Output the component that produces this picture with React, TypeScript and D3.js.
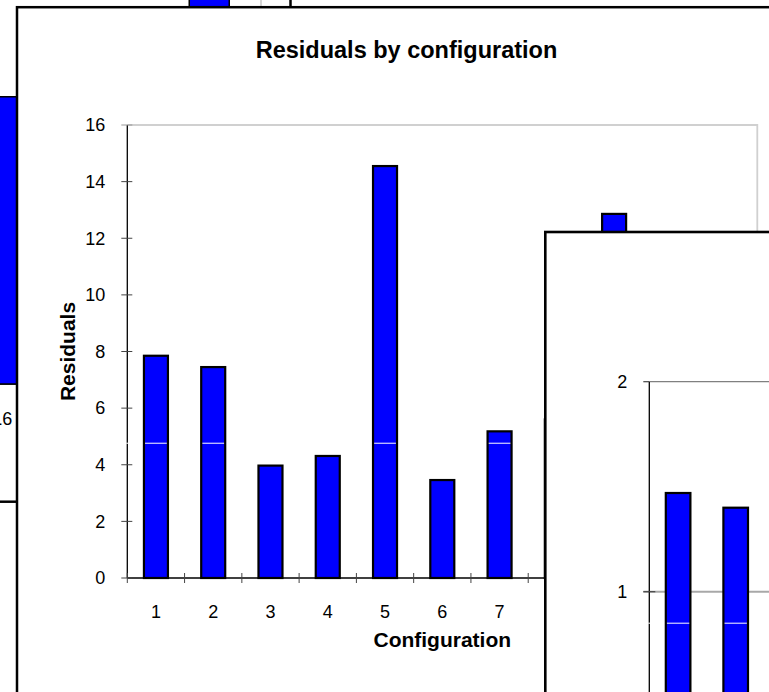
import React, { useEffect, useRef } from 'react';
import * as d3 from 'd3';

// middle window: the chart that is mostly visible
const configurations = ['1', '2', '3', '4', '5', '6', '7', '8', '9', '10', '11'];
const residuals = [7.85, 7.45, 3.97, 4.31, 14.55, 3.46, 5.18, 5.6, 12.86, 6.1, 4.8];
const residualTicks = [0, 2, 4, 6, 8, 10, 12, 14, 16];
const residualMark = 4.76;

// front window (bottom right), only its top left corner shows
const frontConfigurations = ['1', '2', '3'];
const frontResiduals = [1.47, 1.4, 1.2];
const frontTicks = [1, 2];
const frontMark = 0.85;

// back window, only small pieces show
const backConfigurations = ['16', '17', '18'];
const backResiduals = [10.15, 8.4, 14.3];

const FONT = '"Liberation Sans", Arial, sans-serif';
const BLUE = '#0000ff';

const App: React.FC = () => {
  const ref = useRef<SVGSVGElement>(null);

  useEffect(() => {
    const svg = d3.select(ref.current);
    svg.selectAll('*').remove();

    const drawBars = (
      g: d3.Selection<SVGGElement, unknown, null, undefined>,
      cats: string[],
      vals: number[],
      x: d3.ScaleBand<string>,
      y: d3.ScaleLinear<number, number>,
      barW: number,
      stroke: number,
      mark: number | null,
      x0: number,
      x1: number
    ) => {
      const data = cats.map((c, i) => ({ c, v: vals[i] }));
      const bx = (d: any) => (x(d.c) || 0) + (x.bandwidth() - barW) / 2;
      g.append('g')
        .selectAll('rect')
        .data(data)
        .join('rect')
        .attr('x', bx)
        .attr('y', d => y(d.v))
        .attr('width', barW)
        .attr('height', d => y(0) - y(d.v))
        .attr('fill', BLUE);
      if (mark !== null) {
        g.append('line')
          .attr('x1', x0 - 1)
          .attr('x2', x1)
          .attr('y1', y(mark))
          .attr('y2', y(mark))
          .attr('stroke', '#fff')
          .attr('stroke-width', 1);
      }
      g.append('g')
        .selectAll('rect')
        .data(data)
        .join('rect')
        .attr('x', bx)
        .attr('y', d => y(d.v))
        .attr('width', barW)
        .attr('height', d => y(0) - y(d.v))
        .attr('fill', 'none')
        .attr('stroke', '#000')
        .attr('stroke-width', stroke);
    };

    // ---------- back window ----------
    const back = svg.append('g');
    back.append('rect')
      .attr('x', -400).attr('y', -400)
      .attr('width', 690.5).attr('height', 901.7)
      .attr('fill', '#fff').attr('stroke', '#000').attr('stroke-width', 2.5);
    const xB = d3.scaleBand().domain(backConfigurations).range([-49.5, 261]);
    const yB = d3.scaleLinear().domain([0, 16]).range([384, 384 - 16 * 28.3]);
    back.append('line')
      .attr('x1', 261).attr('x2', 261)
      .attr('y1', yB(16)).attr('y2', yB(0))
      .attr('stroke', '#c8c8c8').attr('stroke-width', 1.5);
    back.append('line')
      .attr('x1', -60).attr('x2', 261)
      .attr('y1', yB(0)).attr('y2', yB(0))
      .attr('stroke', '#000').attr('stroke-width', 1.3);
    drawBars(back, backConfigurations, backResiduals, xB, yB, 40, 1.5, null, 0, 0);
    back.append('g')
      .selectAll('text')
      .data(backConfigurations)
      .join('text')
      .attr('x', d => (xB(d) || 0) + xB.bandwidth() / 2)
      .attr('y', yB(0) + 35)
      .attr('dy', '0.35em')
      .attr('text-anchor', 'middle')
      .style('font-family', FONT)
      .style('font-size', '18px')
      .text(d => d);

    // ---------- main window ----------
    const main = svg.append('g');
    main.append('rect')
      .attr('x', 17).attr('y', 7.2)
      .attr('width', 900).attr('height', 900)
      .attr('fill', '#fff').attr('stroke', '#000').attr('stroke-width', 2.5);

    const x = d3.scaleBand().domain(configurations).range([127.3, 757.3]);
    const y = d3.scaleLinear().domain([0, 16]).range([578, 125]);
    const [px0, px1] = x.range();

    // plot area border (top and right)
    main.append('path')
      .attr('d', `M${px0},${y(16)}H${px1}V${y(0)}`)
      .attr('fill', 'none')
      .attr('stroke', '#d0d0d0')
      .attr('stroke-width', 1.8);

    // axes lines
    main.append('line')
      .attr('x1', px0).attr('x2', px0)
      .attr('y1', y(16)).attr('y2', y(0))
      .attr('stroke', '#000').attr('stroke-width', 1.3);
    main.append('line')
      .attr('x1', px0).attr('x2', px1)
      .attr('y1', y(0)).attr('y2', y(0))
      .attr('stroke', '#000').attr('stroke-width', 1.3);

    // y ticks
    main.append('g')
      .selectAll('line')
      .data(residualTicks)
      .join('line')
      .attr('x1', px0 - 6).attr('x2', px0 + 5)
      .attr('y1', d => y(d)).attr('y2', d => y(d))
      .attr('stroke', d => (d === 16 ? '#999' : '#444'))
      .attr('stroke-width', 1);
    main.append('g')
      .selectAll('text')
      .data(residualTicks)
      .join('text')
      .attr('x', px0 - 22)
      .attr('y', d => y(d))
      .attr('dy', '0.35em')
      .attr('text-anchor', 'end')
      .style('font-family', FONT)
      .style('font-size', '18px')
      .text(d => d);

    // x ticks at category boundaries
    const bounds = configurations.map(c => x(c) || 0).concat([px1]);
    main.append('g')
      .selectAll('line')
      .data(bounds)
      .join('line')
      .attr('x1', d => d).attr('x2', d => d)
      .attr('y1', y(0) - 5).attr('y2', y(0) + 5)
      .attr('stroke', '#444')
      .attr('stroke-width', 1);
    main.append('g')
      .selectAll('text')
      .data(configurations)
      .join('text')
      .attr('x', d => (x(d) || 0) + x.bandwidth() / 2)
      .attr('y', y(0) + 34)
      .attr('dy', '0.35em')
      .attr('text-anchor', 'middle')
      .style('font-family', FONT)
      .style('font-size', '18px')
      .text(d => d);

    drawBars(main, configurations, residuals, x, y, 24, 2.2, residualMark, px0, px1);

    // titles
    main.append('text')
      .attr('x', 406.5).attr('y', 57.5)
      .attr('text-anchor', 'middle')
      .style('font-family', FONT)
      .style('font-size', '23.5px')
      .style('font-weight', 'bold')
      .text('Residuals by configuration');
    main.append('text')
      .attr('x', (px0 + px1) / 2).attr('y', 647)
      .attr('text-anchor', 'middle')
      .style('font-family', FONT)
      .style('font-size', '21px')
      .style('font-weight', 'bold')
      .text('Configuration');
    main.append('text')
      .attr('transform', `translate(75,${(y(0) + y(16)) / 2}) rotate(-90)`)
      .attr('text-anchor', 'middle')
      .style('font-family', FONT)
      .style('font-size', '21px')
      .style('font-weight', 'bold')
      .text('Residuals');

    // ---------- front window ----------
    const front = svg.append('g');
    front.append('rect')
      .attr('x', 545.3).attr('y', 232)
      .attr('width', 600).attr('height', 600)
      .attr('fill', '#fff').attr('stroke', '#000').attr('stroke-width', 2.6);

    const xF = d3.scaleBand().domain(frontConfigurations).range([649.3, 649.3 + 57.6 * 3]);
    const yF = d3.scaleLinear().domain([0, 2]).range([801.7, 381.7]);
    const f0 = 649.3;

    front.append('line')
      .attr('x1', f0 - 6).attr('x2', 800)
      .attr('y1', yF(1)).attr('y2', yF(1))
      .attr('stroke', '#a8a8a8').attr('stroke-width', 2);
    front.append('line')
      .attr('x1', f0).attr('x2', 800)
      .attr('y1', yF(2)).attr('y2', yF(2))
      .attr('stroke', '#808080').attr('stroke-width', 1.3);
    front.append('line')
      .attr('x1', f0).attr('x2', f0)
      .attr('y1', yF(2)).attr('y2', 700)
      .attr('stroke', '#000').attr('stroke-width', 1.3);
    front.append('g')
      .selectAll('line')
      .data(frontTicks)
      .join('line')
      .attr('x1', f0 - 6).attr('x2', d => (d === 2 ? f0 : f0 + 6))
      .attr('y1', d => yF(d)).attr('y2', d => yF(d))
      .attr('stroke', '#444')
      .attr('stroke-width', 1.2);
    front.append('g')
      .selectAll('text')
      .data(frontTicks)
      .join('text')
      .attr('x', f0 - 22)
      .attr('y', d => yF(d))
      .attr('dy', '0.35em')
      .attr('text-anchor', 'end')
      .style('font-family', FONT)
      .style('font-size', '18px')
      .text(d => d);

    drawBars(front, frontConfigurations, frontResiduals, xF, yF, 24.6, 2.2, frontMark, f0, 800);
  }, []);

  return (
    <svg
      ref={ref}
      width={769}
      height={692}
      style={{ position: 'absolute', left: 0, top: 0, display: 'block', background: '#fff' }}
    />
  );
};

export default App;
